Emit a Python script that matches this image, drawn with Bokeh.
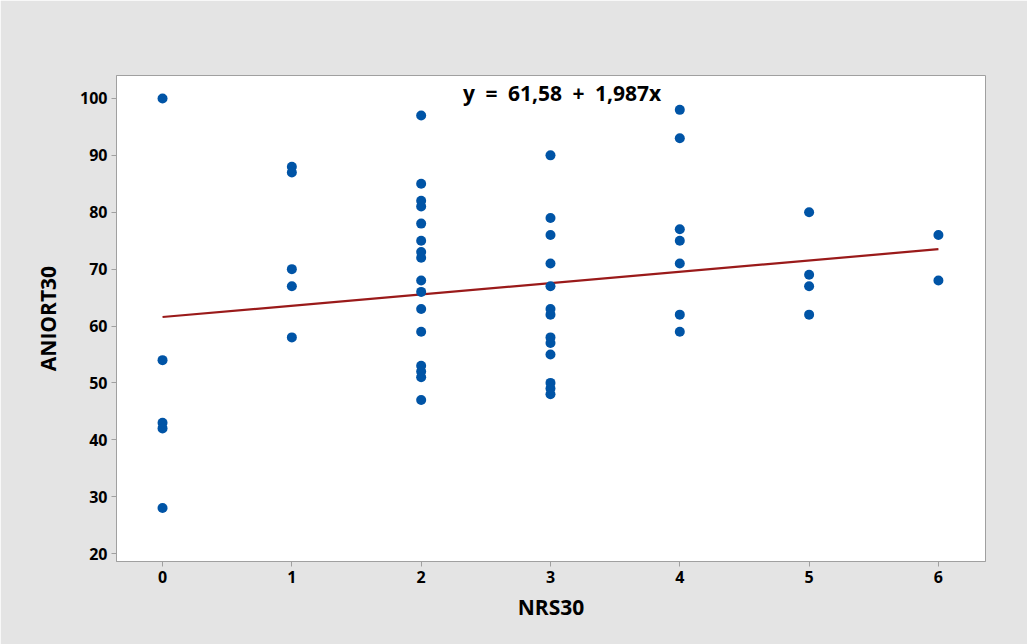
from bokeh.plotting import figure
from bokeh.models import Label, FixedTicker
from bokeh.embed import file_html
from bokeh.resources import INLINE

# Data
nrs30 = [0]*5 + [1]*5 + [2]*16 + [3]*13 + [4]*7 + [5]*4 + [6]*2
aniort30 = [100, 54, 43, 42, 28,
            88, 87, 70, 67, 58,
            97, 85, 82, 81, 78, 75, 73, 72, 68, 66, 63, 59, 53, 52, 51, 47,
            90, 79, 76, 71, 67, 63, 62, 58, 57, 55, 50, 49, 48,
            98, 93, 77, 75, 71, 62, 59,
            80, 69, 67, 62,
            76, 68]
intercept = 61.58
slope = 1.987
x_ticks = [0, 1, 2, 3, 4, 5, 6]
y_ticks = [20, 30, 40, 50, 60, 70, 80, 90, 100]
equation = "y\u2002=\u200261,58\u2002+\u20021,987x"

FONT = "Open Sans"
BG = "#e4e4e4"

p = figure(width=1027, height=644, output_backend="svg", toolbar_location=None,
           x_range=(-0.356, 6.364), y_range=(18.6, 104.04),
           min_border_left=116, min_border_right=42, min_border_top=75, min_border_bottom=83)
p.border_fill_color = BG
p.background_fill_color = "white"
p.outline_line_color = "#a0a0a0"
p.xgrid.visible = False
p.ygrid.visible = False

fit_x = [min(nrs30), max(nrs30)]
fit_y = [intercept + slope * v for v in fit_x]
p.line(fit_x, fit_y, line_color="#9a1a1a", line_width=2.2)
p.scatter(nrs30, aniort30, size=10, fill_color="#0054a6", line_color=None)

for ax in (p.xaxis[0], p.yaxis[0]):
    ax.axis_line_color = "#a0a0a0"
    ax.major_tick_line_color = "#a0a0a0"
    ax.major_tick_out = 5
    ax.major_tick_in = 0
    ax.minor_tick_line_color = None
    ax.major_label_text_font = FONT
    ax.major_label_text_font_style = "bold"
    ax.major_label_text_font_size = "16px"
    ax.major_label_text_color = "black"
    ax.axis_label_text_font = FONT
    ax.axis_label_text_font_style = "bold"
    ax.axis_label_text_font_size = "21px"
    ax.axis_label_text_color = "black"

p.xaxis.ticker = FixedTicker(ticks=x_ticks)
p.yaxis.ticker = FixedTicker(ticks=y_ticks)
p.xaxis.axis_label = "NRS30"
p.yaxis.axis_label = "ANIORT30"
p.xaxis.major_label_standoff = 4
p.yaxis.major_label_standoff = 4
p.xaxis.axis_label_standoff = 7
p.yaxis.axis_label_standoff = 15

p.add_layout(Label(x=3.09, y=100.9, text=equation, text_font=FONT, text_font_style="bold",
                   text_font_size="21px", text_align="center", text_baseline="middle",
                   text_color="black"))

open("out.html", "w").write(file_html(p, INLINE))
